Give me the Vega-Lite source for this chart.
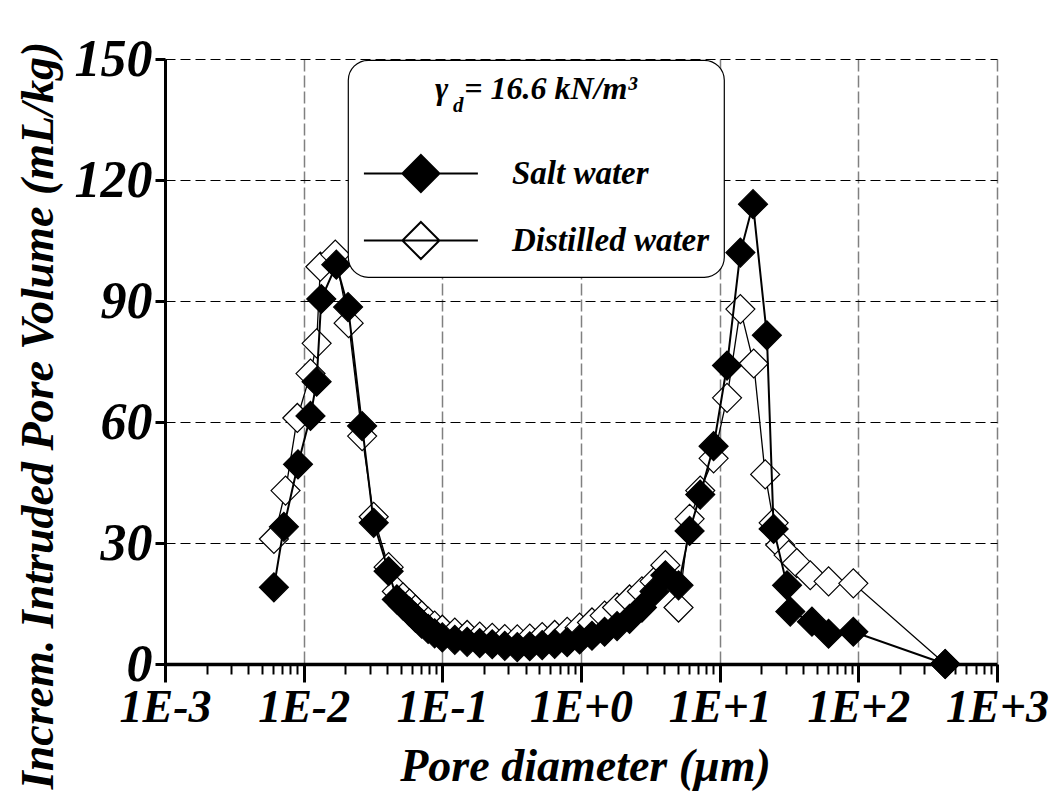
{
  "$schema": "https://vega.github.io/schema/vega-lite/v6.json",
  "width": 832,
  "height": 605,
  "autosize": {"type": "none"},
  "padding": {"left": 165, "top": 59, "right": 54, "bottom": 136},
  "background": "white",
  "config": {"view": {"stroke": null}, "legend": {"strokeWidth": 1.2}},
  "title": {"text": "d", "orient": "top", "anchor": "start", "frame": "group", "offset": 0, "dx": 288, "dy": 100, "baseline": "alphabetic", "font": "Liberation Serif", "fontSize": 21, "fontStyle": "italic", "fontWeight": "bold", "color": "black"},
  "datasets": {
    "pv": [
      {"s": "Distilled water", "d": 0.0061, "v": 31},
      {"s": "Distilled water", "d": 0.0074, "v": 43},
      {"s": "Distilled water", "d": 0.009, "v": 61},
      {"s": "Distilled water", "d": 0.0112, "v": 72},
      {"s": "Distilled water", "d": 0.0124, "v": 79.5},
      {"s": "Distilled water", "d": 0.0132, "v": 98.5},
      {"s": "Distilled water", "d": 0.0169, "v": 101.5},
      {"s": "Distilled water", "d": 0.0211, "v": 84.5},
      {"s": "Distilled water", "d": 0.0264, "v": 56.5},
      {"s": "Distilled water", "d": 0.032, "v": 36.5},
      {"s": "Distilled water", "d": 0.041, "v": 24},
      {"s": "Distilled water", "d": 0.047, "v": 18},
      {"s": "Distilled water", "d": 0.052, "v": 16.5},
      {"s": "Distilled water", "d": 0.058, "v": 15},
      {"s": "Distilled water", "d": 0.064, "v": 13.5},
      {"s": "Distilled water", "d": 0.071, "v": 12},
      {"s": "Distilled water", "d": 0.079, "v": 10.5},
      {"s": "Distilled water", "d": 0.088, "v": 9.5},
      {"s": "Distilled water", "d": 0.1, "v": 8.5},
      {"s": "Distilled water", "d": 0.123, "v": 7.8},
      {"s": "Distilled water", "d": 0.151, "v": 7.2},
      {"s": "Distilled water", "d": 0.186, "v": 6.8},
      {"s": "Distilled water", "d": 0.229, "v": 6.5},
      {"s": "Distilled water", "d": 0.282, "v": 6.2},
      {"s": "Distilled water", "d": 0.347, "v": 6.1},
      {"s": "Distilled water", "d": 0.427, "v": 6.3},
      {"s": "Distilled water", "d": 0.525, "v": 6.7},
      {"s": "Distilled water", "d": 0.646, "v": 7.2},
      {"s": "Distilled water", "d": 0.795, "v": 8},
      {"s": "Distilled water", "d": 0.977, "v": 9},
      {"s": "Distilled water", "d": 1.2, "v": 10.3},
      {"s": "Distilled water", "d": 1.48, "v": 12},
      {"s": "Distilled water", "d": 1.82, "v": 14},
      {"s": "Distilled water", "d": 2.24, "v": 16},
      {"s": "Distilled water", "d": 2.75, "v": 18},
      {"s": "Distilled water", "d": 3.39, "v": 20.5},
      {"s": "Distilled water", "d": 4.06, "v": 24.5},
      {"s": "Distilled water", "d": 5.05, "v": 14},
      {"s": "Distilled water", "d": 6.07, "v": 36},
      {"s": "Distilled water", "d": 7.24, "v": 43},
      {"s": "Distilled water", "d": 9.04, "v": 51},
      {"s": "Distilled water", "d": 11.3, "v": 66},
      {"s": "Distilled water", "d": 14.1, "v": 88},
      {"s": "Distilled water", "d": 17.6, "v": 74.5},
      {"s": "Distilled water", "d": 21.3, "v": 47},
      {"s": "Distilled water", "d": 24.5, "v": 35},
      {"s": "Distilled water", "d": 27.3, "v": 29.5},
      {"s": "Distilled water", "d": 31.4, "v": 27},
      {"s": "Distilled water", "d": 36, "v": 25},
      {"s": "Distilled water", "d": 45, "v": 22},
      {"s": "Distilled water", "d": 61, "v": 20.5},
      {"s": "Distilled water", "d": 92, "v": 20},
      {"s": "Distilled water", "d": 423, "v": 0},
      {"s": "Salt water", "d": 0.0061, "v": 19},
      {"s": "Salt water", "d": 0.0072, "v": 34},
      {"s": "Salt water", "d": 0.0091, "v": 49.5},
      {"s": "Salt water", "d": 0.0112, "v": 61.5},
      {"s": "Salt water", "d": 0.0124, "v": 70},
      {"s": "Salt water", "d": 0.0134, "v": 90.5},
      {"s": "Salt water", "d": 0.0172, "v": 99},
      {"s": "Salt water", "d": 0.0209, "v": 88.5},
      {"s": "Salt water", "d": 0.0264, "v": 59},
      {"s": "Salt water", "d": 0.032, "v": 35},
      {"s": "Salt water", "d": 0.041, "v": 23},
      {"s": "Salt water", "d": 0.047, "v": 16},
      {"s": "Salt water", "d": 0.052, "v": 14.5},
      {"s": "Salt water", "d": 0.058, "v": 13},
      {"s": "Salt water", "d": 0.064, "v": 11.5},
      {"s": "Salt water", "d": 0.071, "v": 10},
      {"s": "Salt water", "d": 0.079, "v": 8.7},
      {"s": "Salt water", "d": 0.088, "v": 7.6},
      {"s": "Salt water", "d": 0.1, "v": 6.6},
      {"s": "Salt water", "d": 0.123, "v": 6},
      {"s": "Salt water", "d": 0.151, "v": 5.5},
      {"s": "Salt water", "d": 0.186, "v": 5.2},
      {"s": "Salt water", "d": 0.229, "v": 4.9},
      {"s": "Salt water", "d": 0.282, "v": 4.5},
      {"s": "Salt water", "d": 0.347, "v": 4.2},
      {"s": "Salt water", "d": 0.427, "v": 4.4},
      {"s": "Salt water", "d": 0.525, "v": 4.7},
      {"s": "Salt water", "d": 0.646, "v": 5},
      {"s": "Salt water", "d": 0.795, "v": 5.4},
      {"s": "Salt water", "d": 0.977, "v": 6.1},
      {"s": "Salt water", "d": 1.2, "v": 7},
      {"s": "Salt water", "d": 1.48, "v": 8},
      {"s": "Salt water", "d": 1.82, "v": 9.4},
      {"s": "Salt water", "d": 2.24, "v": 11.2},
      {"s": "Salt water", "d": 2.75, "v": 14},
      {"s": "Salt water", "d": 3.39, "v": 18},
      {"s": "Salt water", "d": 4.06, "v": 22},
      {"s": "Salt water", "d": 5.05, "v": 19.5},
      {"s": "Salt water", "d": 6.07, "v": 33},
      {"s": "Salt water", "d": 7.24, "v": 42},
      {"s": "Salt water", "d": 9.04, "v": 54},
      {"s": "Salt water", "d": 11.3, "v": 74},
      {"s": "Salt water", "d": 14.1, "v": 102},
      {"s": "Salt water", "d": 17.4, "v": 114},
      {"s": "Salt water", "d": 21.9, "v": 81.5},
      {"s": "Salt water", "d": 24.5, "v": 33.5},
      {"s": "Salt water", "d": 30.6, "v": 19.5},
      {"s": "Salt water", "d": 32.3, "v": 13},
      {"s": "Salt water", "d": 46.3, "v": 10.5},
      {"s": "Salt water", "d": 61, "v": 7.5},
      {"s": "Salt water", "d": 92, "v": 8},
      {"s": "Salt water", "d": 423, "v": 0}
    ]
  },
  "data": {"name": "pv"},
  "encoding": {
    "x": {
      "field": "d", "type": "quantitative",
      "scale": {"type": "log", "domain": [0.001, 1000]},
      "axis": {
        "values": [0.001,0.002,0.003,0.004,0.005,0.006,0.007,0.008,0.009,0.01,0.02,0.03,0.04,0.05,0.06,0.07,0.08,0.09,0.1,0.2,0.3,0.4,0.5,0.6,0.7,0.8,0.9,1,2,3,4,5,6,7,8,9,10,20,30,40,50,60,70,80,90,100,200,300,400,500,600,700,800,900,1000],
        "labelExpr": "(abs(log(datum.value)/LN10 - round(log(datum.value)/LN10)) < 0.000001) ? ('1E' + (round(log(datum.value)/LN10) < 0 ? '' : '+') + round(log(datum.value)/LN10)) : ''",
        "labelFont": "Liberation Serif", "labelFontSize": 46, "labelFontStyle": "italic", "labelFontWeight": "bold", "labelColor": "black",
        "labelPadding": 3, "labelOverlap": false, "labelFlush": false,
        "tickSize": {"condition": {"test": "abs(log(datum.value)/LN10 - round(log(datum.value)/LN10)) < 0.000001", "value": 18}, "value": 10},
        "tickWidth": {"condition": {"test": "abs(log(datum.value)/LN10 - round(log(datum.value)/LN10)) < 0.000001", "value": 3}, "value": 2},
        "tickColor": "black",
        "domainColor": "black", "domainWidth": 3.5,
        "grid": true,
        "gridOpacity": {"condition": {"test": "abs(log(datum.value)/LN10 - round(log(datum.value)/LN10)) < 0.000001", "value": 1}, "value": 0},
        "gridColor": "#808080", "gridDash": [12, 4], "gridWidth": 1.5,
        "title": "Pore diameter (μm)",
        "titleFont": "Liberation Serif", "titleFontSize": 46, "titleFontStyle": "italic", "titleFontWeight": "bold", "titleColor": "black",
        "titleX": 420, "titleY": 116, "titleAlign": "center", "titleBaseline": "alphabetic"
      }
    },
    "y": {
      "field": "v", "type": "quantitative",
      "scale": {"domain": [0, 150]},
      "axis": {
        "values": [0, 30, 60, 90, 120, 150],
        "labelFont": "Liberation Serif", "labelFontSize": 52, "labelFontStyle": "italic", "labelFontWeight": "bold", "labelColor": "black",
        "labelPadding": 3, "labelOverlap": false, "labelFlush": false,
        "tickSize": 10, "tickWidth": 3, "tickColor": "black",
        "domainColor": "black", "domainWidth": 3,
        "grid": true, "gridColor": "black", "gridDash": [10, 5], "gridWidth": 1,
        "title": "Increm. Intruded Pore Volume (mL/kg)",
        "titleFont": "Liberation Serif", "titleFontSize": 46, "titleFontStyle": "italic", "titleFontWeight": "bold", "titleColor": "black",
        "titleAngle": -90, "titleX": -127, "titleY": 356, "titleAlign": "center", "titleBaseline": "middle"
      }
    }
  },
  "layer": [
    {
      "transform": [{"filter": "datum.s === 'Distilled water'"}],
      "mark": {"type": "line", "stroke": "black", "strokeWidth": 1.3},
      "encoding": {}
    },
    {
      "transform": [{"filter": "datum.s === 'Distilled water'"}],
      "mark": {"type": "point", "shape": "diamond", "filled": true, "size": 841, "stroke": "black", "strokeWidth": 1.2, "opacity": 1},
      "encoding": {
        "fill": {
          "field": "s", "type": "nominal",
          "scale": {"domain": ["Salt water", "Distilled water"], "range": ["black", "white"]},
          "legend": {
            "orient": "none", "legendX": 183, "legendY": 1,
            "title": "γ\u00a0\u00a0= 16.6 kN/m³",
            "titleFont": "Liberation Serif", "titleFontSize": 32, "titleFontStyle": "italic", "titleFontWeight": "bold", "titleColor": "black",
            "titleAnchor": "middle", "titlePadding": 48, "titleLimit": 500,
            "labelFont": "Liberation Serif", "labelFontSize": 33, "labelFontStyle": "italic", "labelFontWeight": "bold", "labelColor": "black",
            "labelOffset": 111, "labelLimit": 500,
            "symbolType": "M-0.95,0H5.21M2.13,-1L3.13,0L2.13,1L1.13,0Z",
            "symbolSize": 1369, "symbolStrokeColor": "black", "symbolStrokeWidth": 2, "symbolOpacity": 1,
            "rowPadding": 22, "padding": 14, "cornerRadius": 20, "fillColor": "white", "strokeColor": "black"
          }
        }
      }
    },
    {
      "transform": [{"filter": "datum.s === 'Salt water'"}],
      "mark": {"type": "line", "stroke": "black", "strokeWidth": 2},
      "encoding": {}
    },
    {
      "transform": [{"filter": "datum.s === 'Salt water'"}],
      "mark": {"type": "point", "shape": "diamond", "filled": true, "size": 841, "stroke": "black", "strokeWidth": 1.2, "opacity": 1},
      "encoding": {
        "fill": {
          "field": "s", "type": "nominal",
          "scale": {"domain": ["Salt water", "Distilled water"], "range": ["black", "white"]},
          "legend": {
            "orient": "none", "legendX": 183, "legendY": 1,
            "title": "γ\u00a0\u00a0= 16.6 kN/m³",
            "titleFont": "Liberation Serif", "titleFontSize": 32, "titleFontStyle": "italic", "titleFontWeight": "bold", "titleColor": "black",
            "titleAnchor": "middle", "titlePadding": 48, "titleLimit": 500,
            "labelFont": "Liberation Serif", "labelFontSize": 33, "labelFontStyle": "italic", "labelFontWeight": "bold", "labelColor": "black",
            "labelOffset": 111, "labelLimit": 500,
            "symbolType": "M-0.95,0H5.21M2.13,-1L3.13,0L2.13,1L1.13,0Z",
            "symbolSize": 1369, "symbolStrokeColor": "black", "symbolStrokeWidth": 2, "symbolOpacity": 1,
            "rowPadding": 22, "padding": 14, "cornerRadius": 20, "fillColor": "white", "strokeColor": "black"
          }
        }
      }
    }
  ]
}
